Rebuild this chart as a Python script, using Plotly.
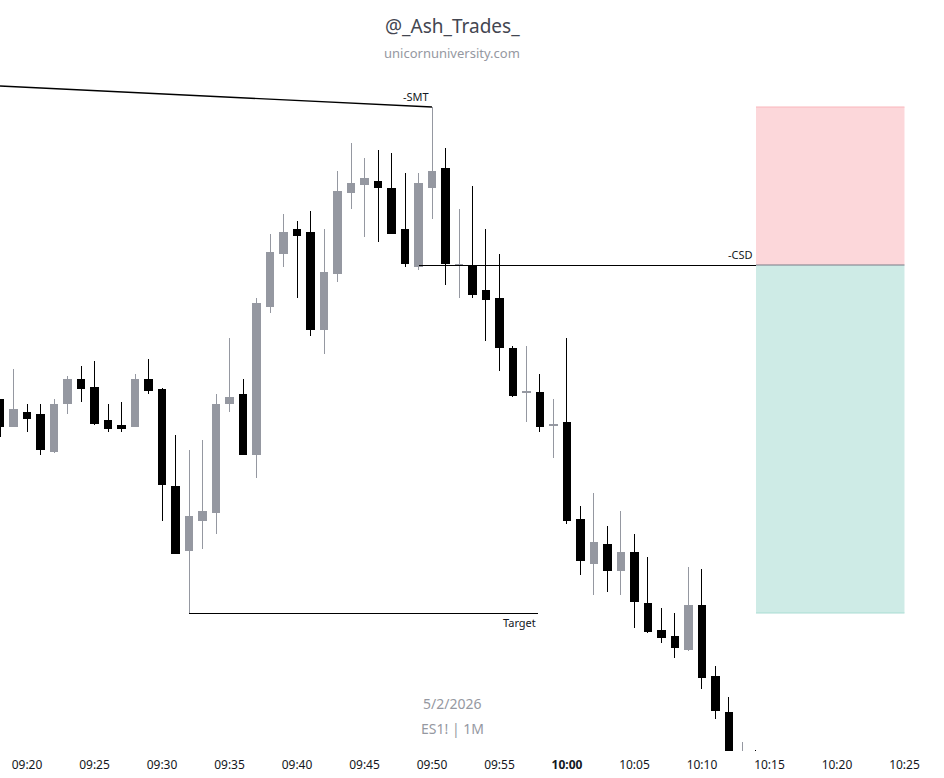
import pandas as pd
import plotly.graph_objects as go

# one minute bars, price scale is not shown on the chart
times = pd.date_range('2026-05-02 09:18', periods=57, freq='min')

opens = [601, 574, 588, 586, 549, 597, 621, 613, 580, 575, 574, 621,
         611, 514, 450, 480, 488, 597, 606, 546, 694, 747, 771, 768, 671, 727, 808, 816, 819, 812, 771, 734,
         813, 832, 735, 735, 710, 702, 652, 608, 608, 575,
         578, 481, 437, 456, 430, 448, 397, 370, 364, 351,
         395, 324, 288, 215, 235]
highs = [601, 631, 596, 596, 601, 624, 634, 639, 596, 598, 626, 641,
         612, 565, 550, 560, 606, 662, 621, 702, 766, 786, 779, 789, 771, 829, 857, 842, 850, 847, 827, 827,
         893, 852, 791, 814, 771, 746, 654, 654, 626, 601,
         662, 494, 507, 474, 489, 466, 443, 392, 387, 433,
         431, 334, 303, 258, 250]
lows = [563, 573, 568, 545, 547, 586, 598, 575, 568, 568, 574, 606,
        479, 446, 387, 451, 466, 588, 545, 522, 687, 733, 702, 664, 646, 718, 791, 763, 758, 766, 733, 730,
        781, 715, 702, 702, 659, 629, 603, 578, 568, 542,
        476, 425, 405, 408, 405, 372, 367, 357, 342, 349,
        311, 281, 205, 205, 215]
closes = [574, 591, 582, 551, 596, 621, 612, 577, 572, 572, 621, 610,
          516, 447, 484, 489, 596, 603, 546, 697, 748, 768, 765, 671, 728, 809, 817, 822, 813, 767, 737, 817,
          829, 737, 735.25, 706, 701, 653, 605, 608.25, 574, 575.25,
          480, 440, 458, 430, 448, 399, 369, 363, 353, 395,
          323, 290, 215, 235, 225]

tick_times = pd.date_range('2026-05-02 09:20', periods=14, freq='5min')
tick_labels = ['09:20', '09:25', '09:30', '09:35', '09:40', '09:45', '09:50', '09:55',
               '<b>10:00</b>', '10:05', '10:10', '10:15', '10:20', '10:25']

# drawn levels
smt_times = ['2026-05-02 09:18', '2026-05-02 09:50']
smt_prices = [914, 893]
csd_times = ['2026-05-02 09:49', '2026-05-02 10:14']
csd_prices = [735, 735]
target_times = ['2026-05-02 09:32', '2026-05-02 09:57:52']
target_prices = [387, 387]

# long position tool
zone_start = '2026-05-02 10:14'
zone_end = '2026-05-02 10:25'
stop_price = 893
entry_price = 735
profit_price = 387

font_name = 'Noto Sans'
up_color = '#9598a1'
down_color = '#000000'

fig = go.Figure()

# Create level lines
for xs, ys, w in [(smt_times, smt_prices, 1.4), (csd_times, csd_prices, 1), (target_times, target_prices, 1)]:
    fig.add_trace(go.Scatter(x=xs, y=ys, mode='lines', line=dict(color='#000000', width=w), hoverinfo='skip'))

# Create candles
fig.add_trace(go.Candlestick(
    x=times, open=opens, high=highs, low=lows, close=closes,
    increasing=dict(line=dict(color=up_color, width=1), fillcolor=up_color),
    decreasing=dict(line=dict(color=down_color, width=1), fillcolor=down_color),
    whiskerwidth=0,
))

fig.add_shape(type='rect', x0=zone_start, x1=zone_end, y0=entry_price, y1=stop_price,
              fillcolor='#fcd7da', line_width=0, layer='below')
fig.add_shape(type='rect', x0=zone_start, x1=zone_end, y0=profit_price, y1=entry_price,
              fillcolor='#ceebe6', line_width=0, layer='below')
for level, color in [(stop_price, '#f9b6bb'), (entry_price, '#787b86'), (profit_price, '#a9dcd3')]:
    fig.add_shape(type='line', x0=zone_start, x1=zone_end, y0=level, y1=level,
                  line=dict(color=color, width=1), layer='below')

# Create annotations
labels = [
    dict(x=smt_times[1], y=904, text='-SMT', xshift=-1),
    dict(x=csd_times[1], y=746, text='-CSD', xshift=-1),
    dict(x=target_times[1], y=378, text='Target', xshift=0),
]
annotations = []
for lab in labels:
    annotations.append(dict(showarrow=False, xanchor='right', yanchor='middle',
                            font=dict(family=font_name, size=11, color='#131722'), **lab))

watermark = [
    ('@_Ash_Trades_', 0.966, 19, '#434651'),
    ('unicornuniversity.com', 0.929, 13, '#9598a1'),
    ('5/2/2026', 0.0626, 14, '#9598a1'),
    ('ES1! | 1M', 0.0293, 14, '#9598a1'),
]
for text, ypos, size, color in watermark:
    annotations.append(dict(xref='paper', yref='paper', x=0.479, y=ypos, text=text, showarrow=False,
                            xanchor='center', yanchor='middle',
                            font=dict(family=font_name, size=size, color=color)))

fig.update_layout(
    width=944,
    height=778,
    margin=dict(l=0, r=0, t=0, b=27),
    paper_bgcolor='#ffffff',
    plot_bgcolor='#ffffff',
    showlegend=False,
    boxgap=0.41,
    boxgroupgap=0,
    annotations=annotations,
    font=dict(family=font_name, size=12, color='#131722'),
)
fig.update_xaxes(
    type='date',
    range=['2026-05-02 09:18:00', '2026-05-02 10:27:55.6'],
    rangeslider_visible=False,
    showgrid=False,
    zeroline=False,
    showline=False,
    ticks='',
    tickmode='array',
    tickvals=tick_times,
    ticktext=tick_labels,
    tickangle=0,
    ticklabelstandoff=5,
)
fig.update_yaxes(range=[249, 1000], showgrid=False, zeroline=False, showticklabels=False, ticks='')

# the page keeps an 8px body margin otherwise, candles get square corners
page_fix = """
document.body.style.margin = '0';
var s = document.createElement('style');
s.textContent = '.boxes path {stroke-linejoin: miter !important; shape-rendering: crispEdges;}'
  + ' .scatterlayer .trace:nth-child(n+2) .js-line {shape-rendering: crispEdges;}';
document.head.appendChild(s);
"""
fig.write_html("out.html", config=dict(displayModeBar=False), post_script=page_fix)
